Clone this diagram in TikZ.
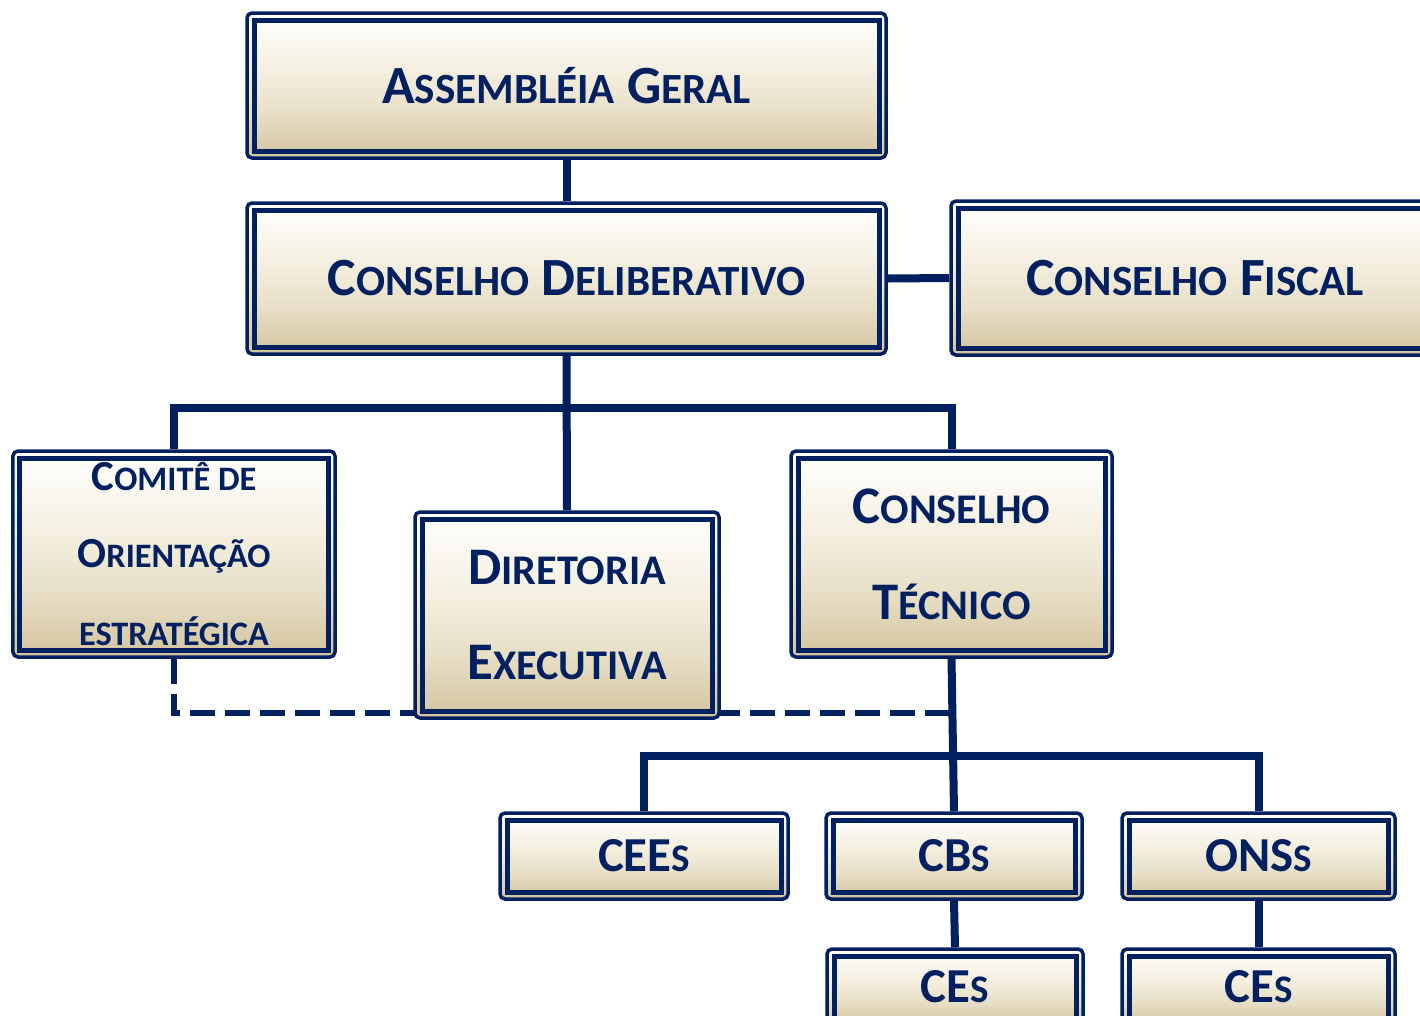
\documentclass[tikz,border=0pt]{standalone}
\usepackage{fontspec}
\setmainfont{Carlito}
\newfontfamily\scf{Carlito}[Scale=0.8]
\usetikzlibrary{backgrounds}
\definecolor{navy}{HTML}{002060}
\definecolor{cA}{HTML}{FFFFFF}
\definecolor{cB}{HTML}{F4EFE0}
\definecolor{cC}{HTML}{D3C49E}
\pgfdeclareverticalshading{cream}{100bp}{color(0bp)=(cC); color(25bp)=(cC); color(40bp)=(cB!60!cC); color(55bp)=(cB); color(75bp)=(cA); color(100bp)=(cA)}
\newcommand\s[1]{{\scf #1}}
\tikzset{
  orgbox/.style={draw=navy, line width=3.5bp, rounded corners=5bp, shading=cream,
    text=navy, align=center, inner sep=0pt,
    path picture={\draw[navy, line width=5bp, sharp corners]
      ([shift={(7bp,7bp)}]path picture bounding box.south west) rectangle
      ([shift={(-7bp,-7bp)}]path picture bounding box.north east);}},
  bigtxt/.style={font=\bfseries\fontsize{54}{64}\selectfont},
  midtxt/.style={font=\bfseries\fontsize{53}{96}\selectfont},
  comtxt/.style={font=\bfseries\fontsize{43}{78}\selectfont},
  smtxt/.style={font=\bfseries\fontsize{49}{58}\selectfont},
  conn/.style={draw=navy, line width=8bp},
  dconn/.style={draw=navy, line width=6.5bp, dash pattern=on 25bp off 10bp}
}
\begin{document}
\begin{tikzpicture}[x=1bp,y=-1bp]
\clip (0,0) rectangle (1420,1015);
\node[orgbox, bigtxt, minimum width=639bp, minimum height=145bp] (AG) at (566.5,85.5) {A\s{SSEMBLÉIA} G\s{ERAL}};
\node[orgbox, bigtxt, minimum width=639bp, minimum height=151bp] (CD) at (566.5,278.5) {C\s{ONSELHO} D\s{ELIBERATIVO}};
\node[orgbox, bigtxt, minimum width=488bp, minimum height=154bp] (CF) at (1195,278) {C\s{ONSELHO} F\s{ISCAL}};
\node[orgbox, comtxt, minimum width=322bp, minimum height=206bp] (COM) at (174,554) {C\s{OMITÊ DE}\\O\s{RIENTAÇÃO}\\\s{ESTRATÉGICA}};
\node[orgbox, midtxt, minimum width=304bp, minimum height=206bp] (DIR) at (567,615) {D\s{IRETORIA}\\E\s{XECUTIVA}};
\node[orgbox, midtxt, minimum width=321bp, minimum height=206bp] (CT) at (951.5,554) {C\s{ONSELHO}\\T\s{ÉCNICO}};
\node[orgbox, smtxt, minimum width=288bp, minimum height=86bp] (CEEs) at (644,856) {CEE\s{S}};
\node[orgbox, smtxt, minimum width=256bp, minimum height=86bp] (CBs) at (954,856) {CB\s{S}};
\node[orgbox, smtxt, minimum width=273bp, minimum height=86bp] (ONSs) at (1258.5,856) {ONS\s{S}};
\node[orgbox, smtxt, minimum width=256bp, minimum height=76bp] (CEa) at (955,987) {CE\s{S}};
\node[orgbox, smtxt, minimum width=273bp, minimum height=76bp] (CEb) at (1258.5,987) {CE\s{S}};
\coordinate (DJ) at (951.5,713);
\begin{scope}[on background layer]
  \draw[conn] (AG.south) -- (CD.north);
  \draw[conn] (CD.east) -- (CF.west);
  \draw[conn] (CD.south) -- (DIR.north);
  \draw[conn] (COM.north) -- ++(0,-41) -| (CT.north);
  \draw[conn] (CT.south) -- (CBs.north);
  \draw[conn] (CEEs.north) -- ++(0,-55) -| (ONSs.north);
  \draw[conn] (CBs.south) -- (CEa.north);
  \draw[conn] (ONSs.south) -- (CEb.north);
  \draw[dconn] (COM.south) |- (DJ);
\end{scope}
\end{tikzpicture}
\end{document}
